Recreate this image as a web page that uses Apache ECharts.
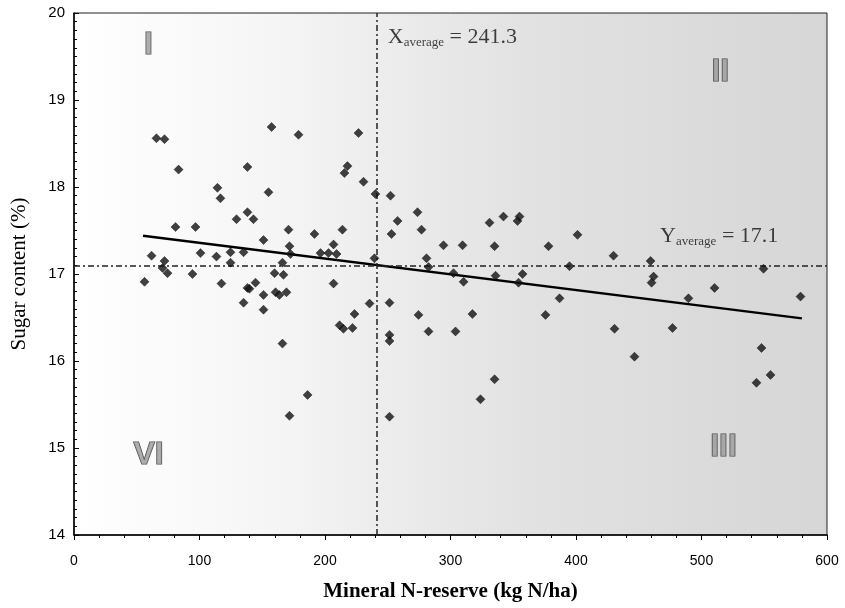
<!DOCTYPE html>
<html>
<head>
<meta charset="utf-8">
<script src="https://cdn.jsdelivr.net/npm/echarts@6/dist/echarts.min.js"></script>
<style>
  html, body { margin: 0; padding: 0; background: #fff; }
  #view { width: 845px; height: 608px; }
</style>
</head>
<body>
<div id="view"></div>
<script>
// mineral N-reserve (kg N/ha) and sugar content (%) per field
var nReserve = [65.7, 72.1, 83.3, 138.2, 114.3, 116.7, 138.2, 129.5, 80.9, 96.8,
  61.8, 72.1, 70.5, 74.5, 94.4, 56.2, 100.8, 113.5, 124.7, 124.7, 135.1, 117.5, 138.2, 135.1,
  157.4, 178.9, 226.7, 217.9, 215.5, 230.7, 155.0, 240.2, 252.2, 143.0, 170.9, 191.6, 213.9, 253.0, 257.8, 151.0, 171.7, 206.8,
  172.5, 196.4, 202.8, 209.2, 166.1, 239.4, 159.8, 166.9, 139.8, 144.6, 151.0, 160.6, 163.7, 169.3, 206.8, 151.0, 235.5, 251.4,
  223.5, 211.6, 214.7, 221.9, 251.4, 251.4, 166.1, 186.1,
  273.7, 276.9, 331.1, 342.2, 353.4, 355.0, 294.4, 309.6, 335.1, 378.1, 401.2, 280.9, 282.5, 394.8, 302.4, 310.4, 335.9, 357.4, 354.2, 386.9,
  274.5, 317.5, 375.7, 282.5, 304.0, 335.1, 323.9,
  429.9, 459.4, 461.8, 460.2, 549.4, 510.4, 489.6, 578.9, 430.7, 476.9, 547.8, 446.6, 555.0, 543.8,
  171.7, 251.4];
var sugar = [18.56, 18.55, 18.20, 18.23, 17.99, 17.87, 17.71, 17.63, 17.54, 17.54,
  17.21, 17.15, 17.07, 17.01, 17.00, 16.91, 17.24, 17.20, 17.25, 17.13, 17.25, 16.89, 16.84, 16.67,
  18.69, 18.60, 18.62, 18.24, 18.16, 18.06, 17.94, 17.92, 17.90, 17.63, 17.51, 17.46, 17.51, 17.46, 17.61, 17.39, 17.32, 17.34,
  17.23, 17.24, 17.24, 17.23, 17.13, 17.18, 17.01, 16.99, 16.83, 16.90, 16.76, 16.79, 16.76, 16.79, 16.89, 16.59, 16.66, 16.67,
  16.54, 16.41, 16.37, 16.38, 16.30, 16.23, 16.20, 15.61,
  17.71, 17.51, 17.59, 17.66, 17.61, 17.66, 17.33, 17.33, 17.32, 17.32, 17.45, 17.18, 17.08, 17.09, 17.01, 16.91, 16.98, 17.00, 16.90, 16.72,
  16.53, 16.54, 16.53, 16.34, 16.34, 15.79, 15.56,
  17.21, 17.15, 16.97, 16.90, 17.06, 16.84, 16.72, 16.74, 16.37, 16.38, 16.15, 16.05, 15.84, 15.75,
  15.37, 15.36];

var trendX = [55, 580];
var trendY = [17.44, 16.49];
var xAverage = 241.3;
var yAverage = 17.1;

var quadrantNames = ['I', 'II', 'III', 'VI'];
var quadrantX = [59.4, 515, 517.5, 59.4];
var quadrantY = [19.63, 19.32, 15.01, 14.92];

var serif = '"Liberation Serif", "DejaVu Serif", serif';
var sans = '"Liberation Sans", Arial, sans-serif';

var points = nReserve.map(function (x, i) { return [x, sugar[i]]; });
var trend = trendX.map(function (x, i) { return [x, trendY[i]]; });
var quadrants = quadrantNames.map(function (n, i) { return { value: [quadrantX[i], quadrantY[i]], name: n }; });

var myChart = echarts.init(document.getElementById('view'));

var option = {
  animation: false,
  backgroundColor: '#fff',
  grid: {
    left: 74, right: 18, top: 13, bottom: 73,
    show: true,
    borderColor: '#222',
    borderWidth: 1,
    backgroundColor: {
      type: 'linear', x: 0, y: 0, x2: 1, y2: 0,
      colorStops: [
        { offset: 0, color: '#ffffff' },
        { offset: 0.25, color: '#f6f6f6' },
        { offset: 0.6, color: '#e2e2e2' },
        { offset: 1, color: '#d6d6d6' }
      ]
    }
  },
  xAxis: {
    type: 'value', min: 0, max: 600, interval: 100,
    name: 'Mineral N-reserve (kg N/ha)',
    nameLocation: 'middle', nameGap: 46,
    nameTextStyle: { fontFamily: serif, fontSize: 21, fontWeight: 'bold', color: '#000' },
    axisLine: { lineStyle: { color: '#000', width: 1.5 } },
    axisTick: { show: true, inside: false, length: 5, lineStyle: { color: '#000' } },
    minorTick: { show: true, splitNumber: 5, length: 3, lineStyle: { color: '#000' } },
    splitLine: { show: false },
    axisLabel: { fontFamily: sans, fontSize: 14, color: '#000', margin: 19 }
  },
  yAxis: {
    type: 'value', min: 14, max: 20, interval: 1,
    name: 'Sugar content (%)',
    nameLocation: 'middle', nameGap: 44, nameRotate: 90,
    nameTextStyle: { fontFamily: serif, fontSize: 21, color: '#000' },
    axisLine: { lineStyle: { color: '#000', width: 1.5 } },
    axisTick: { show: true, inside: true, length: 5, lineStyle: { color: '#000' } },
    minorTick: { show: true, splitNumber: 10, length: 3, lineStyle: { color: '#000' } },
    splitLine: { show: false },
    axisLabel: { fontFamily: sans, fontSize: 15, color: '#000', margin: 9 }
  },
  series: [
    {
      type: 'scatter',
      symbol: 'diamond',
      symbolSize: 9,
      itemStyle: { color: '#111', borderColor: '#000', borderWidth: 0.5 },
      data: points,
      z: 5
    },
    {
      type: 'line',
      data: trend,
      symbol: 'none',
      lineStyle: { color: '#000', width: 2.5 },
      z: 4,
      markLine: {
        silent: true,
        symbol: 'none',
        label: { show: false },
        lineStyle: { color: '#222', width: 1.5, type: [6, 3, 2, 3] },
        data: [{ xAxis: xAverage }, { yAxis: yAverage }]
      }
    },
    {
      type: 'scatter',
      symbolSize: 0,
      data: quadrants,
      label: {
        show: true, position: 'inside',
        formatter: '{b}',
        fontFamily: sans, fontSize: 32, fontWeight: 'bold',
        color: '#9a9a9a', textBorderColor: '#222', textBorderWidth: 1.2
      },
      z: 6
    },
    {
      type: 'scatter',
      symbolSize: 0,
      data: [
        { value: [250, 19.72], lab: 'X' },
        { value: [467, 17.43], lab: 'Y' }
      ],
      label: {
        show: true, position: 'right', distance: 0,
        formatter: function (p) {
          var v = p.data.lab === 'X' ? xAverage : yAverage;
          return '{big|' + p.data.lab + '}{sub|average}{big| = ' + v + '}';
        },
        rich: {
          big: { fontFamily: serif, fontSize: 22, color: '#111' },
          sub: { fontFamily: serif, fontSize: 13, color: '#111', padding: [10, 0, 0, 0] }
        }
      },
      z: 6
    }
  ]
};

myChart.setOption(option);
</script>
</body>
</html>
